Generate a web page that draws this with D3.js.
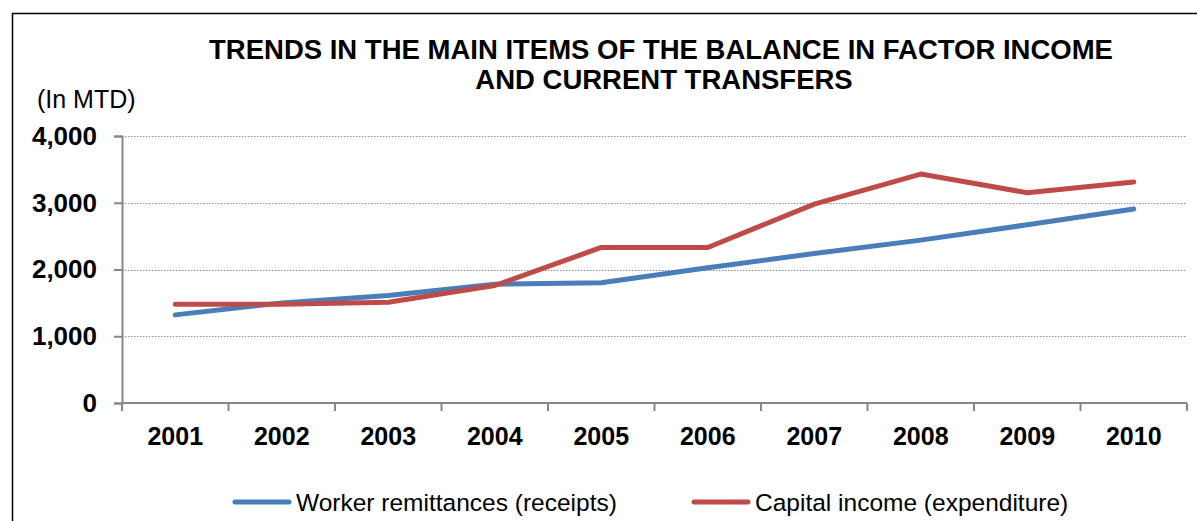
<!DOCTYPE html>
<html>
<head>
<meta charset="utf-8">
<script src="https://cdn.jsdelivr.net/npm/d3@7"></script>
<style>
  body { margin: 0; background: #fff; }
  text { font-family: "Liberation Sans", Arial, sans-serif; }
</style>
</head>
<body>
<div id="chart-area"></div>
<script>
var years = ["2001", "2002", "2003", "2004", "2005", "2006", "2007", "2008", "2009", "2010"];
var workerRemittances = [1320, 1500, 1610, 1780, 1800, 2025, 2240, 2440, 2670, 2905];
var capitalIncome = [1480, 1480, 1510, 1760, 2330, 2330, 2980, 3430, 3150, 3310];
var yTicks = [0, 1000, 2000, 3000, 4000];
var seriesNames = ["Worker remittances (receipts)", "Capital income (expenditure)"];
var seriesColors = ["#4a7ebb", "#be4b48"];

var svg = d3.select("#chart-area").append("svg")
     .attr("width", 1197)
     .attr("height", 521);

// outer frame
svg.append("path")
     .attr("d", "M12.5,540 V13.5 H1200")
     .attr("fill", "none")
     .attr("stroke", "#000")
     .attr("stroke-width", 1.5);

var x = d3.scaleBand()
     .domain(years)
     .range([122, 1187]);

var y = d3.scaleLinear()
     .domain([0, 4000])
     .range([403, 136]);

// gridlines
svg.selectAll(".grid")
     .data(yTicks.filter((d) => d > 0))
     .enter()
     .append("line")
     .attr("x1", 122)
     .attr("x2", 1187)
     .attr("y1", (d) => Math.round(y(d)) + 0.5)
     .attr("y2", (d) => Math.round(y(d)) + 0.5)
     .attr("stroke", "#8c8c8c")
     .attr("stroke-width", 1)
     .attr("stroke-dasharray", "1.5,1.5");

// y axis
var yAxis = svg.append("g")
     .attr("transform", "translate(122,0)")
     .call(d3.axisLeft(y).tickValues(yTicks).tickSize(8).tickPadding(17)
          .tickFormat(d3.format(",")));

yAxis.select(".domain").attr("stroke", "#868686").attr("stroke-width", 2);
yAxis.selectAll(".tick line").attr("stroke", "#868686").attr("stroke-width", 2);
yAxis.selectAll(".tick text")
     .attr("font-size", 26)
     .attr("font-weight", "bold")
     .attr("fill", "#000")
     .attr("font-family", "'Liberation Sans', Arial, sans-serif");

// x axis
var xAxis = svg.append("g")
     .attr("transform", "translate(0,403)")
     .call(d3.axisBottom(x).tickSize(0).tickPadding(24));

xAxis.select(".domain").remove();
xAxis.append("line")
     .attr("x1", 122).attr("x2", 1187)
     .attr("stroke", "#868686").attr("stroke-width", 2);
xAxis.selectAll(".bound")
     .data(years.concat(["end"]))
     .enter()
     .append("line")
     .attr("x1", (d, i) => 122 + i * x.step())
     .attr("x2", (d, i) => 122 + i * x.step())
     .attr("y1", 0)
     .attr("y2", 8)
     .attr("stroke", "#868686")
     .attr("stroke-width", 2);
xAxis.selectAll(".tick text")
     .attr("font-size", 25)
     .attr("font-weight", "bold")
     .attr("fill", "#000")
     .attr("font-family", "'Liberation Sans', Arial, sans-serif");

// lines
var line = d3.line()
     .x((d, i) => x(years[i]) + x.bandwidth() / 2)
     .y((d) => y(d));

[workerRemittances, capitalIncome].forEach((s, k) => {
     svg.append("path")
          .datum(s)
          .attr("d", line)
          .attr("fill", "none")
          .attr("stroke", seriesColors[k])
          .attr("stroke-width", 5)
          .attr("stroke-linejoin", "round")
          .attr("stroke-linecap", "round");
});

// title
var title = svg.append("text")
     .attr("text-anchor", "middle")
     .attr("font-size", 27.5)
     .attr("font-weight", "bold");
title.append("tspan").attr("x", 661).attr("y", 59)
     .text("TRENDS IN THE MAIN ITEMS OF THE BALANCE IN FACTOR INCOME");
title.append("tspan").attr("x", 664).attr("y", 89)
     .text("AND CURRENT TRANSFERS");

svg.append("text")
     .attr("x", 37)
     .attr("y", 108)
     .attr("font-size", 25)
     .text("(In MTD)");

// legend
var legendX = [233, 692];
seriesNames.forEach((name, k) => {
     svg.append("line")
          .attr("x1", legendX[k] + 2).attr("x2", legendX[k] + 56)
          .attr("y1", 502).attr("y2", 502)
          .attr("stroke", seriesColors[k])
          .attr("stroke-width", 5)
          .attr("stroke-linecap", "round");
     svg.append("text")
          .attr("x", legendX[k] + 63)
          .attr("y", 511)
          .attr("font-size", 24.5)
          .attr("fill", "#000")
          .text(name);
});
</script>
</body>
</html>
